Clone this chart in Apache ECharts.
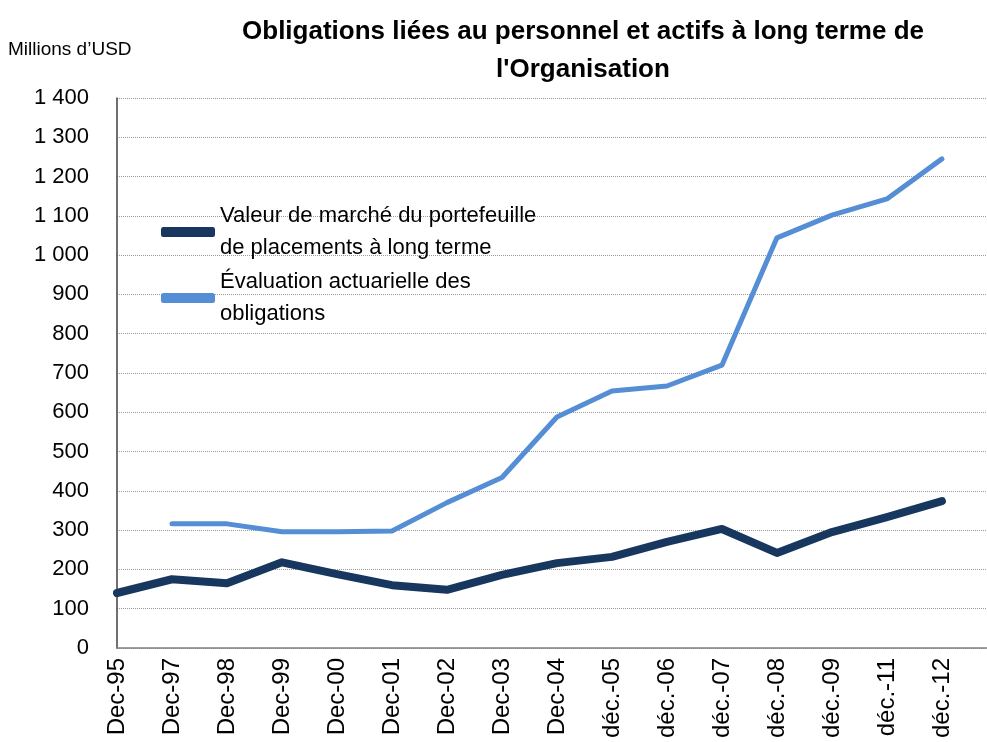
<!DOCTYPE html>
<html>
<head>
<meta charset="utf-8">
<script src="https://cdn.jsdelivr.net/npm/echarts@6/dist/echarts.min.js"></script>
<style>
html,body{margin:0;padding:0;background:#fff;}
#main{width:987px;height:742px;}
</style>
</head>
<body>
<div id="main"></div>
<script>
// categories on the x axis
var categories = ['Dec-95','Dec-97','Dec-98','Dec-99','Dec-00','Dec-01','Dec-02','Dec-03','Dec-04',
    'déc.-05','déc.-06','déc.-07','déc.-08','déc.-09','déc.-11','déc.-12'];
// valeur de marché du portefeuille
var marketValue = [140,175,165,218,188,160,148,186,216,232,270,303,242,295,333,374];
// évaluation actuarielle (pas de valeur pour Dec-95)
var actuarial = [null,316,316,296,296,298,370,434,588,654,667,720,1044,1102,1143,1245];
var yTicks = [0,100,200,300,400,500,600,700,800,900,1000,1100,1200,1300,1400];

var seriesNames = ['Valeur de marché du portefeuille\nde placements à long terme',
    'Évaluation actuarielle des\nobligations'];

function pairs(arr){
    var out = [];
    for(var i=0;i<arr.length;i++){
        if(arr[i]!=null) out.push([i,arr[i]]);
    }
    return out;
}

var myChart = echarts.init(document.getElementById('main'));
var font = '"Liberation Sans", Arial, sans-serif';

var option = {
    animation:false,
    textStyle:{fontFamily:font},
    title:{
        text:"Obligations liées au personnel et actifs à long terme de\nl'Organisation",
        left:578, top:8, textAlign:'center',
        textStyle:{fontSize:26, fontWeight:'bold', color:'#000', lineHeight:38, fontFamily:font}
    },
    graphic:[{
        type:'text', left:8, top:40,
        style:{text:'Millions d\u2019USD', fontSize:19, fill:'#000', fontFamily:font}
    }],
    legend:{
        orient:'vertical', left:156, top:195,
        itemWidth:54, itemHeight:10, itemGap:2,
        icon:'roundRect',
        textStyle:{fontSize:22, color:'#000', lineHeight:32, fontFamily:font},
        data:seriesNames
    },
    grid:{left:117, right:0, top:98, bottom:94, containLabel:false},
    xAxis:{
        type:'value', min:0, max:15.82, interval:1,
        axisLine:{show:true, onZero:false, lineStyle:{color:'#808080', width:1.5}},
        axisTick:{show:false},
        splitLine:{show:false},
        axisLabel:{
            rotate:90, fontSize:24, color:'#000', margin:10, showMaxLabel:false,
            formatter:function(v){
                return (Math.abs(v-Math.round(v))<1e-6 && categories[Math.round(v)]) ? categories[Math.round(v)] : '';
            }
        }
    },
    yAxis:{
        type:'value', min:yTicks[0], max:yTicks[yTicks.length-1], interval:100,
        axisLine:{show:true, lineStyle:{color:'#404040', width:1.5}},
        axisTick:{show:false},
        splitLine:{show:true, lineStyle:{color:'#9a9a9a', type:'dotted', width:1}},
        axisLabel:{
            fontSize:22, color:'#000', margin:28,
            formatter:function(v){ return v>=1000 ? Math.floor(v/1000)+' '+String(v%1000).padStart(3,'0') : String(v); }
        }
    },
    series:[
        {
            name:seriesNames[0], type:'line', data:pairs(marketValue),
            showSymbol:false, symbol:'none',
            color:'#17375e',
            lineStyle:{width:8, color:'#17375e', cap:'round', join:'round'}
        },
        {
            name:seriesNames[1], type:'line', data:pairs(actuarial),
            showSymbol:false, symbol:'none',
            color:'#558ed5',
            lineStyle:{width:5, color:'#558ed5', cap:'round', join:'round'}
        }
    ]
};
myChart.setOption(option, true);
</script>
</body>
</html>
